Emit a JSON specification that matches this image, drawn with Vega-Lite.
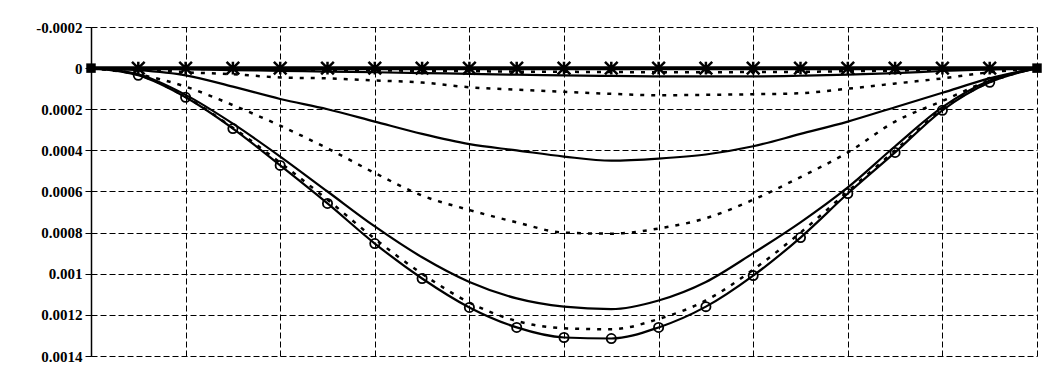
{
  "$schema": "https://vega.github.io/schema/vega-lite/v6.json",
  "width": 946,
  "height": 329,
  "autosize": {"type": "none"},
  "padding": {"left": 91, "top": 27, "right": 19, "bottom": 23},
  "background": "white",
  "config": {"view": {"stroke": null}},
  "data": {"values": [
    {"s":"A","i":0,"v":0},{"s":"A","i":1,"v":0},{"s":"A","i":2,"v":0},{"s":"A","i":3,"v":0},{"s":"A","i":4,"v":0},{"s":"A","i":5,"v":0},{"s":"A","i":6,"v":0},{"s":"A","i":7,"v":0},{"s":"A","i":8,"v":0},{"s":"A","i":9,"v":0},{"s":"A","i":10,"v":0},{"s":"A","i":11,"v":0},{"s":"A","i":12,"v":0},{"s":"A","i":13,"v":0},{"s":"A","i":14,"v":0},{"s":"A","i":15,"v":0},{"s":"A","i":16,"v":0},{"s":"A","i":17,"v":0},{"s":"A","i":18,"v":0},{"s":"A","i":19,"v":0},{"s":"A","i":20,"v":0},
    {"s":"B","i":0,"v":0},{"s":"B","i":1,"v":0.000002},{"s":"B","i":2,"v":0.000005},{"s":"B","i":3,"v":0.00001},{"s":"B","i":4,"v":0.000013},{"s":"B","i":5,"v":0.000017},{"s":"B","i":6,"v":0.00002},{"s":"B","i":7,"v":0.000024},{"s":"B","i":8,"v":0.000028},{"s":"B","i":9,"v":0.000032},{"s":"B","i":10,"v":0.000035},{"s":"B","i":11,"v":0.000038},{"s":"B","i":12,"v":0.00004},{"s":"B","i":13,"v":0.00004},{"s":"B","i":14,"v":0.00004},{"s":"B","i":15,"v":0.000037},{"s":"B","i":16,"v":0.000032},{"s":"B","i":17,"v":0.000024},{"s":"B","i":18,"v":0.000014},{"s":"B","i":19,"v":0.000006},{"s":"B","i":20,"v":0},
    {"s":"C","i":0,"v":0},{"s":"C","i":1,"v":0.000001},{"s":"C","i":2,"v":0.000003},{"s":"C","i":3,"v":0.000005},{"s":"C","i":4,"v":0.000007},{"s":"C","i":5,"v":0.000009},{"s":"C","i":6,"v":0.000011},{"s":"C","i":7,"v":0.000013},{"s":"C","i":8,"v":0.000015},{"s":"C","i":9,"v":0.000017},{"s":"C","i":10,"v":0.000018},{"s":"C","i":11,"v":0.000019},{"s":"C","i":12,"v":0.00002},{"s":"C","i":13,"v":0.00002},{"s":"C","i":14,"v":0.000019},{"s":"C","i":15,"v":0.000018},{"s":"C","i":16,"v":0.000015},{"s":"C","i":17,"v":0.000012},{"s":"C","i":18,"v":0.000008},{"s":"C","i":19,"v":0.000004},{"s":"C","i":20,"v":0},
    {"s":"D","i":0,"v":0},{"s":"D","i":1,"v":0.000005},{"s":"D","i":2,"v":0.00002},{"s":"D","i":3,"v":0.00003},{"s":"D","i":4,"v":0.000045},{"s":"D","i":5,"v":0.00005},{"s":"D","i":6,"v":0.00006},{"s":"D","i":7,"v":0.00007},{"s":"D","i":8,"v":0.000093},{"s":"D","i":9,"v":0.000105},{"s":"D","i":10,"v":0.000115},{"s":"D","i":11,"v":0.000125},{"s":"D","i":12,"v":0.000132},{"s":"D","i":13,"v":0.00013},{"s":"D","i":14,"v":0.000127},{"s":"D","i":15,"v":0.000122},{"s":"D","i":16,"v":0.0001},{"s":"D","i":17,"v":0.000075},{"s":"D","i":18,"v":0.00005},{"s":"D","i":19,"v":0.00002},{"s":"D","i":20,"v":0},
    {"s":"E","i":0,"v":0},{"s":"E","i":1,"v":0.00001},{"s":"E","i":2,"v":0.000035},{"s":"E","i":3,"v":0.00009},{"s":"E","i":4,"v":0.00015},{"s":"E","i":5,"v":0.0002},{"s":"E","i":6,"v":0.00026},{"s":"E","i":7,"v":0.00032},{"s":"E","i":8,"v":0.00037},{"s":"E","i":9,"v":0.0004},{"s":"E","i":10,"v":0.00043},{"s":"E","i":11,"v":0.00045},{"s":"E","i":12,"v":0.00044},{"s":"E","i":13,"v":0.00042},{"s":"E","i":14,"v":0.00038},{"s":"E","i":15,"v":0.00032},{"s":"E","i":16,"v":0.00026},{"s":"E","i":17,"v":0.00019},{"s":"E","i":18,"v":0.00012},{"s":"E","i":19,"v":0.00005},{"s":"E","i":20,"v":0},
    {"s":"F","i":0,"v":0},{"s":"F","i":1,"v":0.00003},{"s":"F","i":2,"v":0.00009},{"s":"F","i":3,"v":0.00018},{"s":"F","i":4,"v":0.00028},{"s":"F","i":5,"v":0.00039},{"s":"F","i":6,"v":0.00051},{"s":"F","i":7,"v":0.00062},{"s":"F","i":8,"v":0.00069},{"s":"F","i":9,"v":0.00075},{"s":"F","i":10,"v":0.0008},{"s":"F","i":11,"v":0.000805},{"s":"F","i":12,"v":0.00078},{"s":"F","i":13,"v":0.00073},{"s":"F","i":14,"v":0.00064},{"s":"F","i":15,"v":0.00053},{"s":"F","i":16,"v":0.00041},{"s":"F","i":17,"v":0.00026},{"s":"F","i":18,"v":0.00016},{"s":"F","i":19,"v":0.00006},{"s":"F","i":20,"v":0},
    {"s":"G","i":0,"v":0},{"s":"G","i":1,"v":0.00003},{"s":"G","i":2,"v":0.00013},{"s":"G","i":3,"v":0.00027},{"s":"G","i":4,"v":0.00043},{"s":"G","i":5,"v":0.0006},{"s":"G","i":6,"v":0.00077},{"s":"G","i":7,"v":0.00092},{"s":"G","i":8,"v":0.00104},{"s":"G","i":9,"v":0.00112},{"s":"G","i":10,"v":0.00116},{"s":"G","i":11,"v":0.001172},{"s":"G","i":12,"v":0.00113},{"s":"G","i":13,"v":0.00104},{"s":"G","i":14,"v":0.0009},{"s":"G","i":15,"v":0.00075},{"s":"G","i":16,"v":0.00058},{"s":"G","i":17,"v":0.00038},{"s":"G","i":18,"v":0.00019},{"s":"G","i":19,"v":0.00006},{"s":"G","i":20,"v":0},
    {"s":"H","i":0,"v":0},{"s":"H","i":1,"v":0.000033},{"s":"H","i":2,"v":0.00014},{"s":"H","i":3,"v":0.00029},{"s":"H","i":4,"v":0.00046},{"s":"H","i":5,"v":0.00064},{"s":"H","i":6,"v":0.00083},{"s":"H","i":7,"v":0.001},{"s":"H","i":8,"v":0.00114},{"s":"H","i":9,"v":0.00123},{"s":"H","i":10,"v":0.001265},{"s":"H","i":11,"v":0.00127},{"s":"H","i":12,"v":0.00122},{"s":"H","i":13,"v":0.00113},{"s":"H","i":14,"v":0.00098},{"s":"H","i":15,"v":0.0008},{"s":"H","i":16,"v":0.0006},{"s":"H","i":17,"v":0.0004},{"s":"H","i":18,"v":0.0002},{"s":"H","i":19,"v":0.000068},{"s":"H","i":20,"v":0},
    {"s":"I","i":0,"v":0},{"s":"I","i":1,"v":0.000035},{"s":"I","i":2,"v":0.000142},{"s":"I","i":3,"v":0.000294},{"s":"I","i":4,"v":0.000473},{"s":"I","i":5,"v":0.000658},{"s":"I","i":6,"v":0.000853},{"s":"I","i":7,"v":0.001023},{"s":"I","i":8,"v":0.001164},{"s":"I","i":9,"v":0.001261},{"s":"I","i":10,"v":0.00131},{"s":"I","i":11,"v":0.001315},{"s":"I","i":12,"v":0.001261},{"s":"I","i":13,"v":0.00116},{"s":"I","i":14,"v":0.001009},{"s":"I","i":15,"v":0.000824},{"s":"I","i":16,"v":0.00061},{"s":"I","i":17,"v":0.00041},{"s":"I","i":18,"v":0.000205},{"s":"I","i":19,"v":0.000069},{"s":"I","i":20,"v":0}
  ]},
  "encoding": {
    "x": {"field": "i", "type": "quantitative",
      "scale": {"domain": [0, 20], "nice": false, "zero": false},
      "axis": {"title": null, "labels": false, "ticks": false, "domain": false,
        "values": [0,2,4,6,8,10,12,14,16,18,20],
        "grid": true, "gridColor": "#000000", "gridDash": [6, 3], "gridWidth": 1, "gridOpacity": 1}},
    "y": {"field": "v", "type": "quantitative",
      "scale": {"domain": [-0.0002, 0.0014], "nice": false, "zero": false, "reverse": true},
      "axis": {"title": null,
        "values": [-0.0002, 0, 0.0002, 0.0004, 0.0006, 0.0008, 0.001, 0.0012, 0.0014],
        "labelExpr": "replace(format(datum.value, '~g'), '\u2212', '-')",
        "labelFont": "Liberation Serif", "labelFontSize": 15, "labelFontWeight": "bold", "labelColor": "#000000",
        "labelPadding": 3,
        "domain": true, "domainColor": "#000000", "domainWidth": 1.5,
        "ticks": true, "tickSize": 6, "tickColor": "#000000", "tickWidth": 1,
        "grid": true, "gridColor": "#000000", "gridDash": [6, 3], "gridWidth": 1, "gridOpacity": 1}}
  },
  "layer": [
    {
      "transform": [{"filter": "datum.s == 'C' || datum.s == 'D' || datum.s == 'F' || datum.s == 'H'"}],
      "mark": {"type": "line", "color": "#000000", "strokeWidth": 2.5, "strokeDash": [4, 7], "interpolate": "monotone"},
      "encoding": {"detail": {"field": "s"}}
    },
    {
      "transform": [{"filter": "datum.s == 'B' || datum.s == 'E' || datum.s == 'G' || datum.s == 'I'"}],
      "mark": {"type": "line", "color": "#000000", "strokeWidth": 2.2, "interpolate": "monotone"},
      "encoding": {"detail": {"field": "s"}}
    },
    {
      "transform": [{"filter": "datum.s == 'A'"}],
      "mark": {"type": "line", "color": "#000000", "strokeWidth": 4},
      "encoding": {"detail": {"field": "s"}}
    },
    {
      "transform": [{"filter": "datum.s == 'A' && datum.i > 0 && datum.i < 20"}],
      "mark": {"type": "point", "shape": "M-1,-1L1,1M-1,1L1,-1M0,-1L0,1", "filled": false, "stroke": "#000000", "strokeWidth": 2.5, "size": 160, "opacity": 1}
    },
    {
      "transform": [{"filter": "datum.s == 'I' && datum.i > 0 && datum.i < 20"}],
      "mark": {"type": "point", "shape": "circle", "filled": false, "stroke": "#000000", "strokeWidth": 1.8, "size": 85, "opacity": 1}
    },
    {
      "transform": [{"filter": "datum.s == 'A' && (datum.i == 0 || datum.i == 20)"}],
      "mark": {"type": "point", "shape": "square", "filled": true, "color": "#000000", "size": 90, "opacity": 1}
    }
  ]
}
